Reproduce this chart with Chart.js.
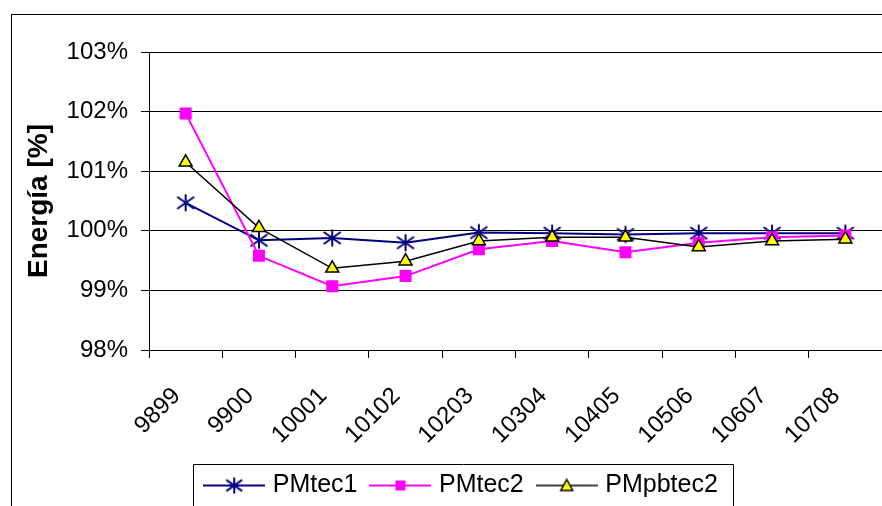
<!DOCTYPE html>
<html lang="es">
<head>
  <meta charset="UTF-8" />
  <title>Energía</title>
  <script src="https://cdn.jsdelivr.net/npm/chart.js"></script>
  <style>
    html, body { margin: 0; padding: 0; background: #fff; overflow: hidden; }
    #wrap { width: 882px; height: 506px; overflow: hidden; }
  </style>
</head>
<body>
  <div id="wrap">
    <canvas id="energyChart" width="892" height="508"></canvas>
  </div>

  <script>
    const categories = ["9899", "9900", "10001", "10102", "10203", "10304", "10405", "10506", "10607", "10708"];
    const pmtec1 = [100.47, 99.84, 99.88, 99.80, 99.97, 99.96, 99.94, 99.96, 99.96, 99.96];
    const pmtec2 = [101.97, 99.58, 99.07, 99.24, 99.69, 99.83, 99.64, 99.80, 99.89, 99.92];
    const pmpbtec2 = [101.15, 100.05, 99.37, 99.49, 99.83, 99.89, 99.89, 99.73, 99.83, 99.86];
    const seriesNames = ["PMtec1", "PMtec2", "PMpbtec2"];
    const yTicks = [98, 99, 100, 101, 102, 103];

    const FONT = "'Liberation Sans', Arial, sans-serif";
    Chart.defaults.font.family = FONT;
    Chart.defaults.color = "#000";

    // asterisk marker like the Excel one (X plus a vertical bar)
    function drawAsterisk(ctx, cx, cy, r, color) {
      ctx.strokeStyle = color;
      ctx.lineWidth = 2;
      ctx.beginPath();
      ctx.moveTo(cx, cy - r); ctx.lineTo(cx, cy + r);
      ctx.moveTo(cx - r, cy - r * 0.7); ctx.lineTo(cx + r, cy + r * 0.7);
      ctx.moveTo(cx - r, cy + r * 0.7); ctx.lineTo(cx + r, cy - r * 0.7);
      ctx.stroke();
    }

    function makeAsterisk() {
      const c = document.createElement("canvas");
      c.width = 20; c.height = 20;
      drawAsterisk(c.getContext("2d"), 10, 10, 8.5, "#000080");
      return c;
    }

    function makeSample(kind, lineColor) {
      const c = document.createElement("canvas");
      c.width = 62; c.height = 22;
      const g = c.getContext("2d");
      g.strokeStyle = lineColor;
      g.lineWidth = kind === "tri" ? 1.5 : 2;
      g.beginPath(); g.moveTo(0, 11); g.lineTo(62, 11); g.stroke();
      if (kind === "star") {
        drawAsterisk(g, 31, 11, 8, "#000080");
      } else if (kind === "rect") {
        g.fillStyle = "#FF00FF";
        g.fillRect(26, 6, 10, 10);
      } else {
        g.fillStyle = "#FFFF00";
        g.strokeStyle = "#000";
        g.lineWidth = 1.5;
        g.beginPath();
        g.moveTo(31, 5); g.lineTo(37, 16); g.lineTo(25, 16); g.closePath();
        g.fill(); g.stroke();
      }
      return c;
    }

    const samples = [makeSample("star", "#000080"), makeSample("rect", "#FF00FF"), makeSample("tri", "#000")];

    const framePlugin = {
      id: "frame",
      afterLayout(chart) {
        // Excel centres the legend on the full (wider) chart
        chart.legend.left += 17;
        chart.legend.right += 17;
      },
      beforeDraw(chart) {
        const ctx = chart.ctx;
        ctx.save();
        ctx.strokeStyle = "#000";
        ctx.lineWidth = 1;
        ctx.strokeRect(11.5, 14.5, 1000, 1000);
        ctx.restore();
      },
      afterDraw(chart) {
        const hb = chart.legend.legendHitBoxes;
        if (!hb || !hb.length) return;
        const last = hb[hb.length - 1];
        const ctx = chart.ctx;
        ctx.save();
        ctx.strokeStyle = "#000";
        ctx.lineWidth = 1;
        const x0 = Math.round(hb[0].left - 15) + 0.5;
        const x1 = Math.round(last.left + last.width + 15) + 0.5;
        const y0 = Math.round(hb[0].top - 9) + 0.5;
        ctx.beginPath();
        ctx.moveTo(x0, 600); ctx.lineTo(x0, y0); ctx.lineTo(x1, y0); ctx.lineTo(x1, 600);
        ctx.stroke();
        ctx.restore();
      }
    };

    const ctx = document.getElementById("energyChart").getContext("2d");
    new Chart(ctx, {
      type: "line",
      data: {
        labels: categories,
        datasets: [
          {
            label: seriesNames[0],
            data: pmtec1,
            borderColor: "#000080",
            borderWidth: 2,
            pointStyle: makeAsterisk(),
            pointRadius: 8,
            tension: 0,
            order: 3
          },
          {
            label: seriesNames[1],
            data: pmtec2,
            borderColor: "#FF00FF",
            backgroundColor: "#FF00FF",
            borderWidth: 2,
            pointStyle: "rect",
            pointRadius: 8.5,
            pointBorderWidth: 0,
            pointBackgroundColor: "#FF00FF",
            tension: 0,
            order: 2
          },
          {
            label: seriesNames[2],
            data: pmpbtec2,
            borderColor: "#000",
            borderWidth: 1.5,
            pointStyle: "triangle",
            pointRadius: 7.5,
            pointBackgroundColor: "#FFFF00",
            pointBorderColor: "#000",
            pointBorderWidth: 1.5,
            tension: 0,
            order: 1
          }
        ]
      },
      options: {
        responsive: false,
        animation: false,
        layout: { padding: { top: 52, left: 0, right: 0, bottom: 0 } },
        plugins: {
          tooltip: { enabled: false },
          legend: {
            position: "bottom",
            labels: {
              font: { size: 25, family: FONT },
              usePointStyle: true,
              pointStyleWidth: 52,
              padding: 17,
              generateLabels(chart) {
                return chart.data.datasets.map((ds, i) => ({
                  text: ds.label,
                  pointStyle: samples[i],
                  fillStyle: "transparent",
                  strokeStyle: "transparent",
                  lineWidth: 0,
                  hidden: false,
                  datasetIndex: i
                }));
              }
            }
          }
        },
        scales: {
          x: {
            type: "category",
            offset: true,
            grid: {
              display: true,
              offset: true,
              drawOnChartArea: false,
              drawTicks: true,
              tickLength: 8,
              color: "#000"
            },
            border: { display: true, color: "#000", width: 1 },
            ticks: {
              autoSkip: false,
              minRotation: 45,
              maxRotation: 45,
              padding: 24,
              labelOffset: -9,
              font: { size: 24, family: FONT }
            },
            afterFit(scale) {
              scale.height = 106;
            }
          },
          y: {
            min: yTicks[0],
            max: yTicks[yTicks.length - 1],
            afterBuildTicks(scale) { scale.ticks = yTicks.map(v => ({ value: v })); },
            grid: { color: "#000", lineWidth: 1, tickLength: 8, drawTicks: true },
            border: { display: true, color: "#000", width: 1 },
            ticks: {
              padding: 13,
              font: { size: 24, family: FONT },
              callback: v => v + "%"
            },
            title: {
              display: true,
              text: "Energía [%]",
              font: { size: 28, weight: "bold", family: FONT },
              padding: { top: 22, bottom: 0 }
            },
            afterFit(scale) { scale.width = 149; }
          }
        }
      },
      plugins: [framePlugin]
    });
  </script>
</body>
</html>
